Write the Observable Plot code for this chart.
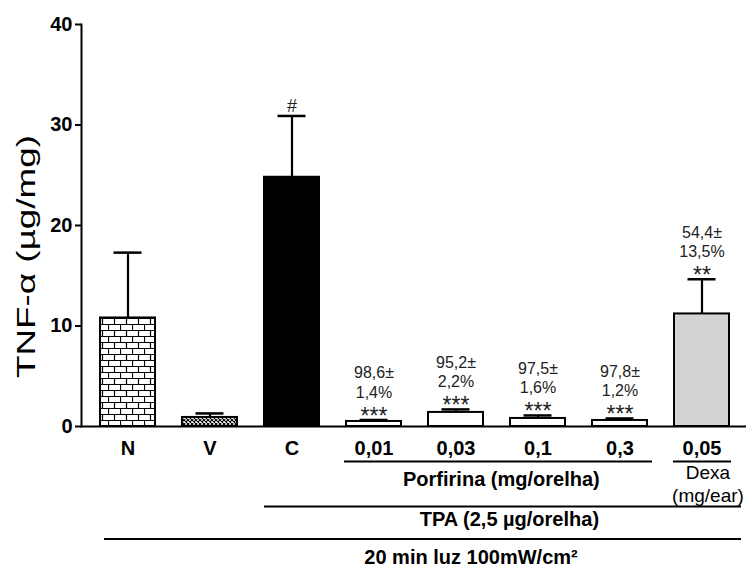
<!DOCTYPE html>
<html>
<head>
<meta charset="utf-8">
<script src="https://cdn.jsdelivr.net/npm/d3@7"></script>
<script src="https://cdn.jsdelivr.net/npm/@observablehq/plot@0.6"></script>
<style>
  body { margin: 0; background: #fff; }
  #chart svg { display: block; }
</style>
</head>
<body>
<div id="chart"></div>
<script>
// Treatment groups along the x axis
const groups = ["N", "V", "C", "0,01", "0,03", "0,1", "0,3", "0,05"];
// TNF-α (µg/mg): mean and upper error (SEM) per group
const means = [10.8, 0.9, 24.8, 0.5, 1.4, 0.8, 0.6, 11.2];
const sems  = [6.5, 0.4, 6.1, 0.15, 0.3, 0.3, 0.2, 3.45];
// Inhibition relative to control, written above each treated bar
const inhibition = ["", "", "", "98,6±\n1,4%", "95,2±\n2,2%", "97,5±\n1,6%", "97,8±\n1,2%", "54,4±\n13,5%"];
// Significance markers
const significance = ["", "", "#", "***", "***", "***", "***", "**"];
const yTicks = [0, 10, 20, 30, 40];
const yTitle = "TNF-α (µg/mg)";

// Bracket groupings drawn under the axis
const porfirina = { label: "Porfirina (mg/orelha)", from: "0,01", to: "0,3" };
const dexa = { label: "Dexa\n(mg/ear)", from: "0,05", to: "0,05" };
const tpa = { label: "TPA (2,5 µg/orelha)", from: "C", to: "0,05" };
const luz = { label: "20 min luz 100mW/cm²", from: "N", to: "0,05" };

const rows = groups.map((g, i) => ({
  group: g,
  mean: means[i],
  top: means[i] + sems[i],
  inhibition: inhibition[i],
  sig: significance[i]
}));

const fills = ["url(#brick)", "url(#checker)", "#000", "#fff", "#fff", "#fff", "#fff", "#d3d3d3"];
const font = "'Liberation Sans', Arial, Helvetica, sans-serif";

const xOpts = { type: "band", domain: groups, range: [83, 745], paddingInner: 0.335, paddingOuter: 0.1675 };
const xs = Plot.scale({ x: xOpts });
const half = xs.step / 2;

const chart = Plot.plot({
  width: 746,
  height: 567,
  marginLeft: 81,
  marginRight: 0,
  marginTop: 24,
  marginBottom: 141,
  style: { fontFamily: font, background: "#fff", color: "#000" },
  x: xOpts,
  y: { domain: [0, 40] },
  color: { type: "ordinal", domain: groups, range: fills },
  marks: [
    Plot.barY(rows, { x: "group", y: "mean", fill: "group", stroke: "#000", strokeWidth: 2 }),
    Plot.ruleX(rows, { x: "group", y1: "mean", y2: "top", strokeWidth: 2.2 }),
    Plot.tickY(rows, { x: "group", y: "top", strokeWidth: 2.5, insetLeft: 13.5, insetRight: 13.5 }),
    // percentages and significance above the error bars
    Plot.text(rows.filter(d => d.inhibition), {
      x: "group", y: "top", text: "inhibition", lineAnchor: "bottom", lineHeight: 1.22,
      dy: -22, fontSize: 16, fill: "#222"
    }),
    Plot.text(rows.filter(d => d.sig && d.sig !== "#"), {
      x: "group", y: "top", text: "sig", lineAnchor: "bottom", dy: 4, fontSize: 23, fill: "#222"
    }),
    Plot.text(rows.filter(d => d.sig === "#"), {
      x: "group", y: "top", text: "sig", lineAnchor: "bottom", dy: -4, fontSize: 18, fill: "#222"
    }),
    // axes
    Plot.ruleY([0], { strokeWidth: 2 }),
    Plot.frame({ anchor: "left", strokeWidth: 2 }),
    Plot.axisY({ ticks: yTicks, tickSize: 6, tickPadding: 3, strokeWidth: 2, fontSize: 20, fontWeight: "bold", label: null }),
    Plot.axisX({ tickSize: 0, tickPadding: 14, fontSize: 20, fontWeight: "bold", label: null }),
    Plot.text([yTitle], { frameAnchor: "left", textAnchor: "middle", rotate: -90, dx: -55, dy: 31, fontSize: 25 }),
    // group brackets
    Plot.ruleY([porfirina], { x1: "from", x2: "to", y: () => 0, dy: 35, strokeWidth: 2, insetLeft: -2, insetRight: -5 }),
    Plot.ruleY([dexa], { x1: "from", x2: "to", y: () => 0, dy: 35, strokeWidth: 2, insetLeft: -1, insetRight: -2 }),
    Plot.ruleY([tpa], { x1: "from", x2: "to", y: () => 0, dy: 80, strokeWidth: 2, insetLeft: 0, insetRight: -12 }),
    Plot.ruleY([luz], { x1: "from", x2: "to", y: () => 0, dy: 112.5, strokeWidth: 2, insetLeft: 4, insetRight: -12 }),
    Plot.text([porfirina], { x: () => "0,03", y: () => 0, text: "label", dx: half + 4, dy: 53, fontSize: 20, fontWeight: "bold" }),
    Plot.text([dexa], { x: "from", y: () => 0, text: "label", dx: 6, dy: 57, lineHeight: 1.2, fontSize: 19 }),
    Plot.text([tpa], { x: () => "0,03", y: () => 0, text: "label", dx: half + 12, dy: 93, fontSize: 20, fontWeight: "bold" }),
    Plot.text([luz], { x: () => "0,03", y: () => 0, text: "label", dx: 15, dy: 131, fontSize: 20, fontWeight: "bold" })
  ]
});

// the axis title is set in a wide, stretched face
for (const t of chart.querySelectorAll("text")) {
  if (t.textContent === yTitle) {
    t.setAttribute("textLength", 243);
    t.setAttribute("lengthAdjust", "spacingAndGlyphs");
  }
}

// fill patterns for the N and V bars
const ns = "http://www.w3.org/2000/svg";
const defs = document.createElementNS(ns, "defs");
defs.innerHTML = `
  <pattern id="brick" patternUnits="userSpaceOnUse" width="12" height="12">
    <rect width="12" height="12" fill="#fff"/>
    <path d="M0,0.5H12M0,6.5H12M0.5,0V6.5M6.5,6.5V12" stroke="#000" stroke-width="1.2" fill="none"/>
  </pattern>
  <pattern id="checker" patternUnits="userSpaceOnUse" width="4" height="4">
    <rect width="4" height="4" fill="#fff"/>
    <path d="M0,0L4,4M4,0L0,4" stroke="#000" stroke-width="1.1" fill="none"/>
  </pattern>`;
chart.insertBefore(defs, chart.firstChild);

document.getElementById("chart").append(chart);
</script>
</body>
</html>
